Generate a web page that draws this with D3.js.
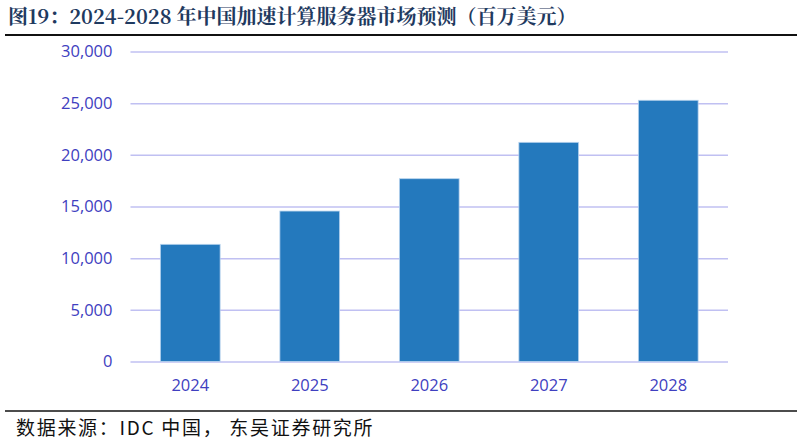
<!DOCTYPE html>
<html>
<head>
<meta charset="utf-8">
<script src="https://cdn.jsdelivr.net/npm/d3@7"></script>
<style>
  html, body { margin: 0; padding: 0; background: #fff; }
  svg { display: block; }
</style>
</head>
<body>
<div class="content"></div>
<script>
//--> Data
const years = ["2024", "2025", "2026", "2027", "2028"];
const marketValues = [11340, 14560, 17690, 21210, 25280];
const yTicks = [0, 5000, 10000, 15000, 20000, 25000, 30000];

const titleText = "图19：2024-2028 年中国加速计算服务器市场预测（百万美元）";
const sourceText = "数据来源：IDC 中国， 东吴证券研究所";

//--> Constants
const width = 797;
const height = 444;
const plot = { left: 130.5, right: 728, top: 51.5, bottom: 361.5 };
const tickColor = "#4040c0";
const gridColor = "#c0c0f2";
const barColor = "#2479bd";

const svg = d3
  .select(".content")
  .append("svg")
  .attr("width", width)
  .attr("height", height);

//--> Scales
const x = d3
  .scaleBand()
  .domain(years)
  .range([plot.left, plot.right])
  .paddingInner(0.5)
  .paddingOuter(0.25);

const y = d3
  .scaleLinear()
  .domain([0, 30000])
  .range([plot.bottom, plot.top]);

//--> Title & rules
svg
  .append("text")
  .attr("x", 8)
  .attr("y", 24)
  .attr("font-family", "'Noto Serif CJK SC', 'Noto Sans CJK SC', 'Liberation Serif', serif")
  .attr("font-weight", "bold")
  .attr("font-size", "20px")
  .attr("fill", "#1f3a60")
  .text(titleText);

svg
  .append("line")
  .attr("x1", 5)
  .attr("x2", width)
  .attr("y1", 35)
  .attr("y2", 35)
  .attr("stroke", "#111")
  .attr("stroke-width", 2);

svg
  .append("line")
  .attr("x1", 5)
  .attr("x2", width)
  .attr("y1", 411)
  .attr("y2", 411)
  .attr("stroke", "#111")
  .attr("stroke-width", 1.5);

svg
  .append("text")
  .attr("x", 16)
  .attr("y", 435)
  .attr("font-family", "'Noto Sans CJK SC', sans-serif")
  .attr("font-size", "19px")
  .attr("letter-spacing", "1.7px")
  .attr("fill", "#111")
  .text(sourceText);

//--> Y axis (grid + labels)
const yAxis = svg
  .append("g")
  .attr("transform", `translate(${plot.left}, 0)`)
  .call(
    d3
      .axisLeft(y)
      .tickValues(yTicks)
      .tickFormat(d3.format(",d"))
      .tickSize(-(plot.right - plot.left))
      .tickPadding(18)
  );

yAxis.select(".domain").remove();
yAxis
  .selectAll(".tick line")
  .attr("stroke", gridColor)
  .attr("stroke-width", 1.5);
yAxis
  .selectAll(".tick text")
  .attr("fill", tickColor)
  .attr("font-family", "'Open Sans', sans-serif")
  .attr("font-size", "16.5px");

//--> Bars
svg
  .append("g")
  .selectAll("rect")
  .data(marketValues)
  .enter()
  .append("rect")
  .attr("x", (d, i) => x(years[i]))
  .attr("y", d => y(d))
  .attr("width", x.bandwidth())
  .attr("height", d => y(0) - y(d))
  .attr("fill", barColor)
  .attr("stroke", "#b8d4ee")
  .attr("stroke-width", 0.8);

//--> X axis labels
const xAxis = svg
  .append("g")
  .attr("transform", `translate(0, ${plot.bottom})`)
  .call(d3.axisBottom(x).tickSize(0).tickPadding(18));

xAxis.select(".domain").remove();
xAxis
  .selectAll(".tick text")
  .attr("fill", tickColor)
  .attr("font-family", "'Open Sans', sans-serif")
  .attr("font-size", "16.5px");
</script>
</body>
</html>
